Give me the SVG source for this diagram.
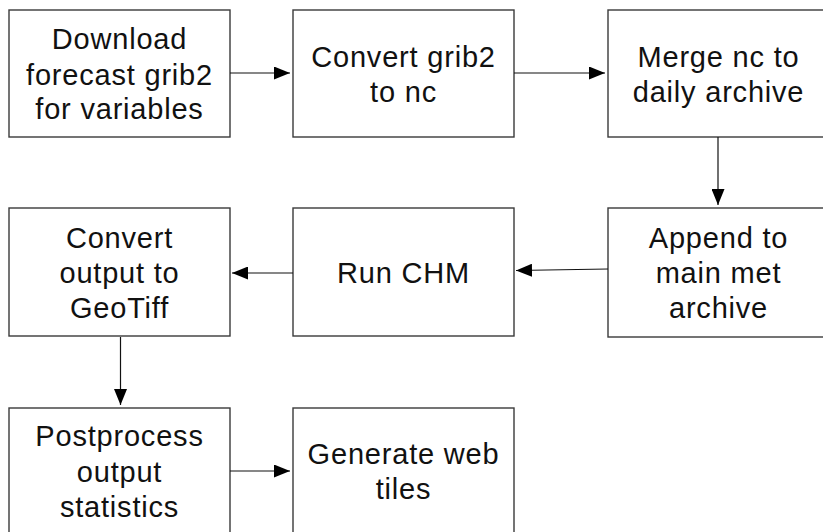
<svg xmlns="http://www.w3.org/2000/svg" width="823" height="532" viewBox="0 0 823 532">
<style>
.box{fill:#ffffff;stroke:#3a3a3a;stroke-width:1.4}
.lbl{font-family:"Liberation Sans",Arial,Helvetica,sans-serif;font-size:29px;letter-spacing:0.8px;fill:#111111;text-anchor:middle}
.conn{fill:none;stroke:#111111;stroke-width:1.2}
</style>
<defs>
<marker id="arr" viewBox="0 0 16 13" refX="16" refY="6.5" markerWidth="16" markerHeight="13" markerUnits="userSpaceOnUse" orient="auto">
<path d="M0,0 L16,6.5 L0,13 Z" fill="#000000"/>
</marker>
</defs>
<rect x="0" y="0" width="823" height="532" fill="#ffffff"/>
<g id="n1">
<rect class="box" x="9" y="10" width="221" height="127"/>
<text class="lbl" x="119.5" y="49">Download</text>
<text class="lbl" x="119.5" y="85">forecast grib2</text>
<text class="lbl" x="119.5" y="119">for variables</text>
</g>
<g id="n2">
<rect class="box" x="293" y="10" width="221" height="127"/>
<text class="lbl" x="403.5" y="67">Convert grib2</text>
<text class="lbl" x="403.5" y="102">to nc</text>
</g>
<g id="n3">
<rect class="box" x="608" y="10" width="221" height="127"/>
<text class="lbl" x="718.5" y="67">Merge nc to</text>
<text class="lbl" x="718.5" y="102">daily archive</text>
</g>
<g id="n4">
<rect class="box" x="9" y="208" width="221" height="128"/>
<text class="lbl" x="119.5" y="248">Convert</text>
<text class="lbl" x="119.5" y="283">output to</text>
<text class="lbl" x="119.5" y="318">GeoTiff</text>
</g>
<g id="n5">
<rect class="box" x="293" y="208" width="221" height="128"/>
<text class="lbl" x="403.5" y="283">Run CHM</text>
</g>
<g id="n6">
<rect class="box" x="608" y="208" width="221" height="129"/>
<text class="lbl" x="718.5" y="248">Append to</text>
<text class="lbl" x="718.5" y="283">main met</text>
<text class="lbl" x="718.5" y="318">archive</text>
</g>
<g id="n7">
<rect class="box" x="9" y="408" width="221" height="128"/>
<text class="lbl" x="119.5" y="446">Postprocess</text>
<text class="lbl" x="119.5" y="482">output</text>
<text class="lbl" x="119.5" y="517">statistics</text>
</g>
<g id="n8">
<rect class="box" x="293" y="408" width="221" height="128"/>
<text class="lbl" x="403.5" y="464">Generate web</text>
<text class="lbl" x="403.5" y="499">tiles</text>
</g>
<g id="connectors">
<line class="conn" x1="230" y1="73" x2="290" y2="73" marker-end="url(#arr)"/>
<line class="conn" x1="514" y1="73" x2="605" y2="73" marker-end="url(#arr)"/>
<line class="conn" x1="718" y1="137" x2="718" y2="205" marker-end="url(#arr)"/>
<line class="conn" x1="608" y1="269" x2="516" y2="270.5" marker-end="url(#arr)"/>
<line class="conn" x1="293" y1="273" x2="232" y2="273" marker-end="url(#arr)"/>
<line class="conn" x1="120.5" y1="337" x2="120.5" y2="405" marker-end="url(#arr)"/>
<line class="conn" x1="230" y1="471" x2="290" y2="471" marker-end="url(#arr)"/>
</g>
</svg>
